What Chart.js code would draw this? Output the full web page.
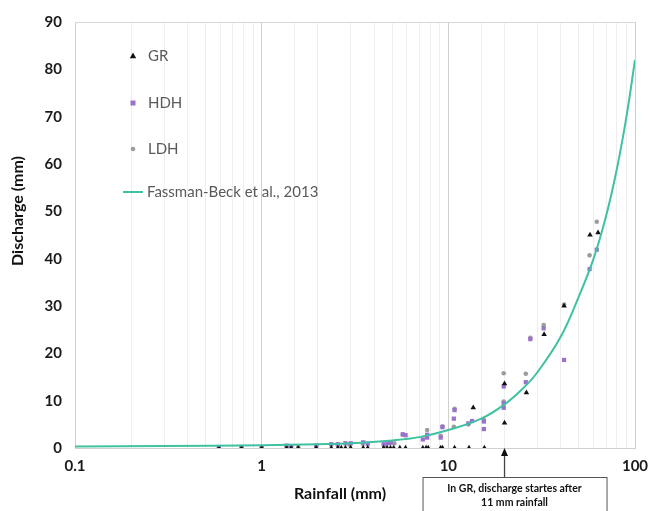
<!DOCTYPE html>
<html><head><meta charset="utf-8">
<script src="https://cdn.jsdelivr.net/npm/chart.js@4.4.1/dist/chart.umd.min.js"></script>
<style>html,body{margin:0;padding:0;background:#fff}</style>
</head><body>
<canvas id="c" width="651" height="511"></canvas>
<script>
// ---- data ----
const grRain      = [0.59,0.78,1.0,1.36,1.44,1.57,1.96,2.36,2.56,2.67,2.81,3.0,3.5,3.7,4.5,4.7,4.9,5.1,5.5,5.9,7.3,7.6,7.8,9.1,9.3,10.8,12.9,15.6,13.6,20,20,26.2,32.6,41.7,57.4,63.4];
const grDischarge = [0,0,0,0,0,0,0,0,0,0,0,0,0,0,0,0,0,0,0,0,0,0,0,0,0,0,0,0,8.5,5.3,13.6,11.7,24.0,30.0,45.0,45.5];

const hdhRain      = [0.59,0.78,1.0,1.36,1.44,1.96,2.36,2.56,2.81,3.0,3.5,3.7,4.5,4.74,4.92,5.7,5.9,7.3,7.7,7.7,9.1,9.3,10.7,10.8,12.8,13.4,15.5,15.5,19.8,19.8,19.8,26.0,27.5,32.4,41.7,57.1,62.4];
const hdhDischarge = [0.2,0.2,0.2,0.5,0.3,0.5,0.8,0.8,1.0,1.0,1.2,0.9,0.8,1.0,1.1,2.9,2.7,1.8,2.2,2.8,2.2,4.4,6.2,8.0,5.2,5.7,5.6,4.0,13.0,9.4,8.5,13.9,23.0,25.3,18.6,37.8,41.9];

const ldhRain      = [0.59,0.78,1.0,1.36,1.57,1.96,2.56,2.96,3.48,4.55,5.14,5.7,7.7,9.1,9.3,10.8,10.7,12.8,15.5,19.8,19.8,26.0,27.5,32.4,41.7,57.1,62.4];
const ldhDischarge = [0.1,0.1,0.1,0.3,0.2,0.4,0.6,0.7,0.9,0.6,1.0,2.8,3.8,2.6,4.6,8.3,4.5,5.0,5.9,15.8,9.8,15.7,23.3,26.0,30.3,40.7,47.8];

const fitRain      = [0.1,0.3,1,2,3,5,7,10,15,20,25,30,40,50,60,70,80,90,100];
const fitDischarge = [0.3,0.4,0.6,0.8,1.0,1.6,2.3,3.8,6.2,9.2,12.5,16.0,23.5,32.0,40.0,49.0,59.0,70.0,82.0];

const xTickLabels = [0.1,1,10,100];
const yTickStep = 10;

const seriesNames = ['GR','HDH','LDH','Fassman-Beck et al., 2013'];
const annotationRain = 20;
const annotationLines = ['In GR, discharge startes after','11 mm rainfall'];

// ---- colours ----
const cGR = '#111111', cHDH = '#9a72cc', cLDH = '#9c9c9c', cFit = '#3fc1a2';

const pts = (xs, ys) => xs.map((x, i) => ({x: x, y: ys[i]}));

const extras = {
  id: 'extras',
  afterDraw(chart) {
    const ctx = chart.ctx, a = chart.chartArea;
    const xs = chart.scales.x, ys = chart.scales.y;
    ctx.save();
    // legend
    const lx = a.left + 58, tx = a.left + 73;
    const rows = [a.top + 34, a.top + 81, a.top + 127, a.top + 170];
    ctx.font = '15px Lato';
    ctx.textBaseline = 'middle';
    ctx.textAlign = 'left';
    ctx.fillStyle = cGR;
    ctx.beginPath();
    ctx.moveTo(lx, rows[0] - 3.5); ctx.lineTo(lx + 3.2, rows[0] + 2.2); ctx.lineTo(lx - 3.2, rows[0] + 2.2);
    ctx.closePath(); ctx.fill();
    ctx.fillStyle = cHDH; ctx.fillRect(lx - 2.5, rows[1] - 2.5, 5, 5);
    ctx.fillStyle = cLDH; ctx.beginPath(); ctx.arc(lx, rows[2], 2.3, 0, Math.PI * 2); ctx.fill();
    ctx.strokeStyle = cFit; ctx.lineWidth = 2;
    ctx.beginPath(); ctx.moveTo(lx - 10, rows[3]); ctx.lineTo(lx + 10, rows[3]); ctx.stroke();
    ctx.fillStyle = '#5a5a5a';
    ctx.fillText(seriesNames[0], tx, rows[0]);
    ctx.fillText(seriesNames[1], tx, rows[1]);
    ctx.fillText(seriesNames[2], tx, rows[2]);
    ctx.fillText(seriesNames[3], tx - 1, rows[3]);

    // axis titles
    ctx.fillStyle = '#111';
    ctx.font = 'bold 16px Lato';
    ctx.textAlign = 'center';
    ctx.fillText('Rainfall (mm)', a.left + 265, a.bottom + 46);
    ctx.save();
    ctx.translate(18, a.top + 189);
    ctx.rotate(-Math.PI / 2);
    ctx.fillText('Discharge (mm)', 0, 0);
    ctx.restore();

    // annotation arrow and box
    const ax = xs.getPixelForValue(annotationRain);
    const ay = ys.getPixelForValue(0);
    const boxTop = a.bottom + 29;
    ctx.strokeStyle = '#444'; ctx.lineWidth = 1.3;
    ctx.beginPath(); ctx.moveTo(ax, boxTop); ctx.lineTo(ax, ay + 4); ctx.stroke();
    ctx.fillStyle = '#111';
    ctx.beginPath(); ctx.moveTo(ax, ay); ctx.lineTo(ax + 3.5, ay + 8); ctx.lineTo(ax - 3.5, ay + 8); ctx.closePath(); ctx.fill();
    const bw = 184, bx = ax - 82;
    ctx.fillStyle = '#fff';
    ctx.fillRect(bx, boxTop, bw, 40);
    ctx.strokeStyle = '#555'; ctx.lineWidth = 1;
    ctx.strokeRect(bx + 0.5, boxTop + 0.5, bw, 40);
    ctx.fillStyle = '#111';
    ctx.font = 'bold 10.5px Lato';
    ctx.fillText(annotationLines[0], bx + bw / 2, boxTop + 12);
    ctx.fillText(annotationLines[1], bx + bw / 2, boxTop + 26);
    ctx.restore();
  }
};

new Chart(document.getElementById('c'), {
  type: 'scatter',
  data: {
    datasets: [
      {label: seriesNames[3], type: 'line', data: pts(fitRain, fitDischarge), borderColor: cFit, borderWidth: 2,
       pointRadius: 0, tension: 0.4, fill: false, order: 0},
      {label: seriesNames[0], data: pts(grRain, grDischarge), pointStyle: 'triangle', pointRadius: 3.2,
       backgroundColor: cGR, borderColor: cGR, borderWidth: 0, order: 1},
      {label: seriesNames[1], data: pts(hdhRain, hdhDischarge), pointStyle: 'rect', pointRadius: 3,
       backgroundColor: cHDH, borderColor: cHDH, borderWidth: 0, order: 2},
      {label: seriesNames[2], data: pts(ldhRain, ldhDischarge), pointStyle: 'circle', pointRadius: 2.3,
       backgroundColor: cLDH, borderColor: cLDH, borderWidth: 0, order: 3}
    ]
  },
  options: {
    responsive: false,
    animation: false,
    layout: {padding: {top: 19, right: 16, left: 0, bottom: 0}},
    plugins: {legend: {display: false}, tooltip: {enabled: false}},
    scales: {
      x: {
        type: 'logarithmic', min: 0.1, max: 100,
        afterFit(s) { s.height = 63; s.paddingRight = 0; s.paddingLeft = 0; },
        grid: {
          drawTicks: false,
          color: (c) => {
            const v = c.tick ? c.tick.value : 0;
            const lg = Math.log10(v);
            if (Math.abs(lg - Math.round(lg)) < 1e-6) return '#cfcfcf';
            return '#eeeeee';
          },
          lineWidth: 1
        },
        border: {display: true, color: '#d0d0d0'},
        ticks: {
          autoSkip: false, maxRotation: 0, padding: 9,
          color: '#1a1a1a', font: {family: 'Lato', size: 15, weight: 'bold'},
          callback: (v) => xTickLabels.some(t => Math.abs(t - v) < 1e-9) ? String(v) : ''
        }
      },
      y: {
        min: 0, max: 90,
        afterFit(s) { s.width = 75; },
        grid: {
          drawTicks: false,
          color: (c) => (c.tick && (c.tick.value === 90)) ? '#d8d8d8' : 'rgba(0,0,0,0)'
        },
        border: {display: true, color: '#d0d0d0'},
        ticks: {
          stepSize: yTickStep, padding: 13,
          color: '#1a1a1a', font: {family: 'Lato', size: 15, weight: 'bold'}
        }
      }
    }
  },
  plugins: [extras]
});
</script>
</body></html>
